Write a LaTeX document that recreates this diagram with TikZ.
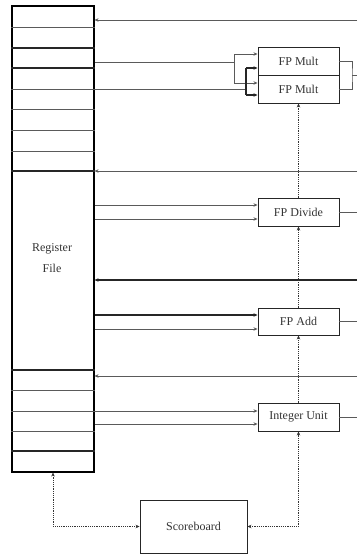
\documentclass[tikz,border=0pt]{standalone}
\usepackage{fontspec}
\setmainfont{Liberation Serif}
\usetikzlibrary{arrows.meta}
\definecolor{ln}{HTML}{5A5A5A}
\definecolor{tx}{HTML}{333333}
\tikzset{
  >={Stealth[length=4pt,width=3.5pt]},
  unit/.style={draw=black!85, line width=0.9pt, minimum width=81pt, minimum height=28pt, inner sep=0pt, font=\fontsize{12}{14}\selectfont, text=tx},
  wire/.style={draw=ln, line width=1pt},
  bwire/.style={draw=black!85, line width=1.1pt},
  arr/.style={->},
  dots/.style={draw=black!80, line width=0.8pt, dash pattern=on 1.2pt off 1pt}
}
\begin{document}
\begin{tikzpicture}[x=1pt,y=-1pt]
\useasboundingbox (0,0) rectangle (357,554);
% register file
\node[draw=black, line width=1.1pt, minimum width=82pt, minimum height=466pt, inner sep=0pt] (rf) at (53,239) {};
\node[font=\fontsize{12}{21}\selectfont, text=tx, align=center] (rflabel) at (52,258.5) {Register\\File};
\foreach \yy in {27,89,109,130,151,390,411,431} \draw[wire] (rf.west |- 0,\yy) -- (rf.east |- 0,\yy);
\foreach \yy in {48,68,171,370,451} \draw[bwire] (rf.west |- 0,\yy) -- (rf.east |- 0,\yy);
% units
\node[unit] (m1) at (298.5,61) {FP Mult};
\node[unit] (m2) at (298.5,89) {FP Mult};
\node[unit] (div) at (298.5,212) {FP Divide};
\node[unit, minimum height=27pt] (add) at (298.5,321.5) {FP Add};
\node[unit] (iu) at (298.5,417) {Integer Unit};
\node[unit, minimum width=107pt, minimum height=53pt] (sb) at (193.5,526.5) {Scoreboard};
% result buses into register file
\coordinate (r1) at (357,20);
\coordinate (r2) at (357,171);
\coordinate (r3) at (357,280);
\coordinate (r4) at (357,376);
\draw[wire,arr] (r1) -- (r1 -| rf.east);
\draw[wire,arr] (r2) -- (r2 -| rf.east);
\draw[bwire,arr] (r3) -- (r3 -| rf.east);
\draw[wire,arr] (r4) -- (r4 -| rf.east);
% FP mult inputs
\coordinate (ma) at (234,62);
\coordinate (mb) at (246,89);
\draw[wire] (rf.east |- ma) -- (ma);
\draw[wire] (234,54) -- (234,83);
\draw[wire,arr] (234,54) -- (m1.west |- 0,54);
\draw[wire,arr] (234,83) -- (m2.west |- 0,83);
\draw[wire] (rf.east |- mb) -- (mb);
\draw[bwire] (246,68) -- (246,95);
\draw[bwire,arr] (246,68) -- (m1.west |- 0,68);
\draw[bwire,arr] (246,95) -- (m2.west |- 0,95);
% FP mult outputs
\coordinate (mo) at (352,75);
\draw[wire] (m1.east) -| (mo) |- (m2.east);
\draw[wire] (mo) -- (357,75);
% other inputs
\draw[wire,arr] (rf.east |- 0,205) -- (div.west |- 0,205);
\draw[wire,arr] (rf.east |- 0,219) -- (div.west |- 0,219);
\draw[bwire,arr] (rf.east |- 0,315) -- (add.west |- 0,315);
\draw[wire,arr] (rf.east |- 0,329) -- (add.west |- 0,329);
\draw[wire,arr] (rf.east |- 0,411) -- (iu.west |- 0,411);
\draw[wire,arr] (rf.east |- 0,424) -- (iu.west |- 0,424);
% outputs
\draw[wire] (div.east) -- (357,212);
\draw[wire] (add.east) -- (357,321.5);
\draw[wire] (iu.east) -- (357,417);
% control (dotted)
\draw[dots,->] (div.north) -- (m2.south);
\draw[dots,->] (add.north) -- (div.south);
\draw[dots,->] (iu.north) -- (add.south);
\draw[dots,<->] (sb.east) -| (iu.south);
\draw[dots,<->] (sb.west) -| (rf.south);
\end{tikzpicture}
\end{document}
